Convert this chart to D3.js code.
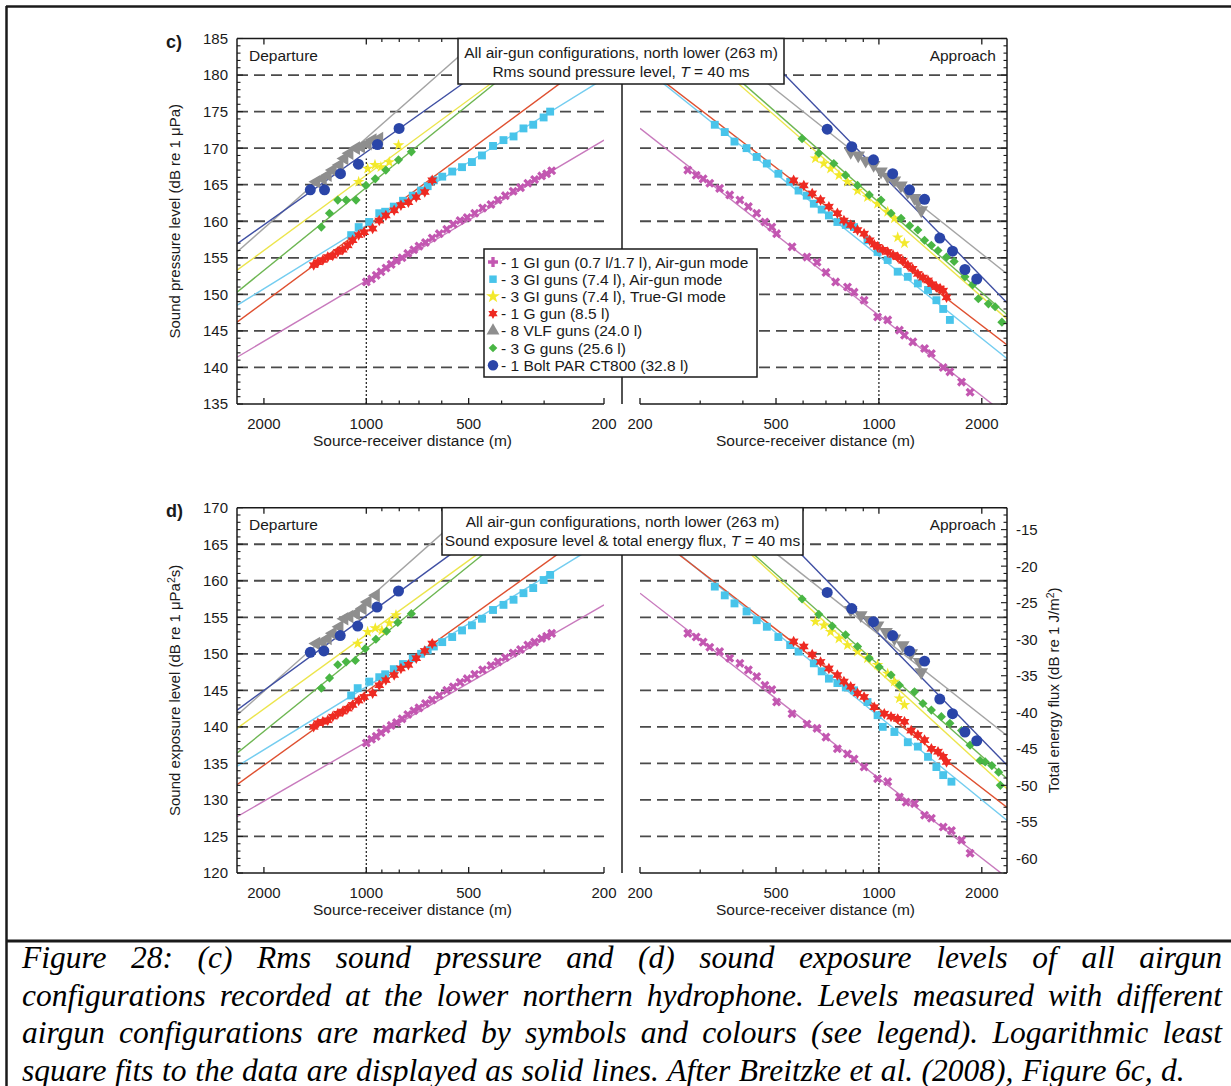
<!DOCTYPE html>
<html>
<head>
<meta charset="utf-8">
<script src="https://cdn.jsdelivr.net/npm/d3@7"></script>
<style>
  body { margin: 0; background: #fff; }
  svg text { font-family: "Liberation Sans", Arial, sans-serif; fill: #1a1a1a; }
  svg text.cap { font-family: "Liberation Serif", "Times New Roman", serif; font-style: italic; font-size: 31.5px; fill: #000; }
</style>
</head>
<body>
<div id="app"></div>
<script>
// ---- series info ----
const seriesKeys = ['gi1', 'gi3a', 'gi3t', 'g1', 'vlf', 'g3', 'bolt'];
const legendLabels = [
  '- 1 GI gun (0.7 l/1.7 l), Air-gun mode',
  '- 3 GI guns (7.4 l), Air-gun mode',
  '- 3 GI guns (7.4 l), True-GI mode',
  '- 1 G gun (8.5 l)',
  '- 8 VLF guns (24.0 l)',
  '- 3 G guns (25.6 l)',
  '- 1 Bolt PAR CT800 (32.8 l)'
];
const markColors = ['#c357b1', '#48c4ea', '#f3e92c', '#ee2a22', '#8e8e8e', '#49b644', '#2a45a8'];
const lineColors = ['#c87abd', '#74cdf0', '#ece54c', '#df5030', '#a4a4a4', '#6db652', '#3f4fa3'];

// ---- axis ticks ----
const xMajor = [2000, 1000, 500, 200];
const xMinor = [900, 800, 700, 600, 400, 300];
const yTicksC = [135, 140, 145, 150, 155, 160, 165, 170, 175, 180, 185];
const yTicksD = [120, 125, 130, 135, 140, 145, 150, 155, 160, 165, 170];
const fluxTicks = [-15, -20, -25, -30, -35, -40, -45, -50, -55, -60];
const fluxOffset = 182; // SEL - 182 = energy flux

// ---- panel c, departure: [distance m, level dB] ----
const c_dep_gi1 = [[1000,151.7],[965,152.1],[935,152.6],[905,153.1],[875,153.6],[845,154.1],[815,154.6],[785,155.0],[755,155.6],[725,156.1],[700,156.6],[670,157.1],[640,157.7],[610,158.3],[580,158.9],[555,159.6],[530,160.1],[505,160.5],[480,161.1],[455,161.8],[430,162.3],[410,162.9],[390,163.5],[370,164.1],[352,164.6],[335,165.2],[320,165.7],[305,166.2],[295,166.5],[285,166.9]];
const c_dep_gi3a = [[1108,158.1],[1053,159.2],[980,159.9],[916,161.1],[880,161.3],[830,162.0],[780,162.8],[730,163.5],[690,164.2],[660,164.8],[633,165.6],[598,166.1],[559,166.8],[523,167.4],[489,168.1],[457,169.0],[424,170.3],[395,171.1],[369,171.6],[345,172.7],[323,173.2],[301,174.2],[288,175.0]];
const c_dep_gi3t = [[1053,165.4],[991,167.2],[943,167.7],[906,167.4],[856,168.1],[804,170.4]];
const c_dep_g1 = [[1428,154.0],[1388,154.4],[1342,154.7],[1298,155.1],[1255,155.3],[1213,155.8],[1173,156.1],[1134,156.7],[1097,157.4],[1053,158.1],[1014,158.5],[958,159.0],[916,160.1],[876,160.8],[828,161.5],[791,162.2],[752,162.6],[713,163.3],[673,164.0],[640,165.6]];
const c_dep_vlf = [[1403,165.4],[1342,165.8],[1298,166.3],[1255,167.0],[1199,167.7],[1160,168.6],[1121,169.3],[1072,170.0],[1036,170.2],[991,170.6],[958,171.1],[916,171.3]];
const c_dep_g3 = [[1356,159.2],[1283,161.1],[1213,162.9],[1146,162.9],[1072,162.9],[1002,164.9],[941,165.8],[876,167.0],[804,168.4],[737,169.5]];
const c_dep_bolt = [[1461,164.3],[1327,164.3],[1191,166.5],[1055,167.8],[927,170.5],[801,172.7]];

// ---- panel c, approach ----
const c_app_gi1 = [[276,167.0],[292,166.3],[306,165.8],[320,165.2],[342,164.5],[366,163.6],[392,162.9],[415,162.0],[439,161.1],[464,159.9],[486,159.2],[502,158.3],[557,156.5],[616,155.1],[659,154.4],[700,153.0],[747,151.7],[809,151.0],[846,150.3],[905,149.2],[991,146.9],[1061,146.5],[1148,145.1],[1188,144.4],[1257,143.5],[1360,142.6],[1424,141.9],[1542,140.0],[1613,139.4],[1745,138.0],[1848,136.6]];
const c_app_gi3a = [[331,173.2],[354,172.2],[378,170.9],[410,170.0],[439,168.8],[470,167.9],[508,166.5],[550,165.4],[582,164.2],[615,163.5],[645,162.4],[680,161.6],[714,160.8],[756,159.9],[800,159.5],[846,159.2],[926,157.4],[991,155.8],[1061,154.7],[1135,153.1],[1215,152.4],[1300,151.5],[1392,150.6],[1473,149.2],[1542,148.0],[1613,146.5]];
const c_app_gi3t = [[652,168.6],[690,167.9],[722,167.2],[764,166.3],[809,165.4],[866,164.2],[926,163.3],[991,162.4],[1061,161.3],[1110,160.4],[1135,157.8],[1188,157.0]];
const c_app_g1 = [[563,165.6],[603,164.9],[638,163.8],[675,162.9],[714,162.0],[756,161.1],[790,160.1],[827,159.5],[866,158.8],[905,158.3],[940,157.4],[969,156.8],[991,156.5],[1026,156.1],[1061,155.8],[1100,155.4],[1135,155.1],[1175,154.6],[1215,154.0],[1255,153.5],[1300,152.8],[1345,152.3],[1392,151.9],[1430,151.4],[1473,151.0],[1510,150.8],[1542,150.5],[1577,149.6]];
const c_app_vlf = [[827,169.5],[870,169.0],[915,168.3],[965,167.7],[1014,166.8],[1060,166.1],[1110,165.6],[1160,164.9],[1215,164.0],[1270,163.2],[1300,162.7],[1330,161.5]];
const c_app_g3 = [[596,171.3],[667,169.3],[738,167.9],[799,166.3],[866,164.9],[937,163.6],[1014,162.9],[1085,161.1],[1161,160.4],[1230,159.4],[1300,158.8],[1360,157.4],[1424,156.7],[1489,156.0],[1577,155.1],[1660,154.5],[1785,152.4],[1880,151.3],[1954,149.4],[2091,148.7],[2188,148.3],[2290,146.2]];
const c_app_bolt = [[706,172.6],[833,170.2],[964,168.4],[1097,166.5],[1229,164.3],[1360,163.0],[1507,157.7],[1642,155.9],[1785,153.4],[1933,152.1]];

// ---- panel d, departure ----
const d_dep_gi1 = [[1000,137.8],[965,138.3],[935,138.7],[905,139.2],[875,139.7],[845,140.2],[815,140.6],[785,141.1],[755,141.7],[725,142.2],[700,142.6],[670,143.2],[640,143.7],[610,144.3],[580,145.0],[555,145.5],[530,146.1],[505,146.6],[480,147.2],[455,147.8],[430,148.4],[410,148.9],[390,149.5],[370,150.1],[352,150.6],[335,151.2],[320,151.6],[305,152.1],[295,152.4],[285,152.8]];
const d_dep_gi3a = [[1108,144.3],[1060,145.3],[980,146.2],[916,146.8],[880,147.2],[830,147.9],[780,148.6],[730,149.4],[690,150.0],[660,150.5],[633,151.0],[598,151.6],[559,152.3],[523,153.2],[489,153.9],[457,154.8],[424,156.0],[395,156.7],[369,157.4],[345,158.3],[323,159.0],[301,160.1],[288,160.8]];
const d_dep_gi3t = [[1060,151.4],[991,153.0],[941,153.5],[900,153.2],[856,154.2],[818,155.3]];
const d_dep_g1 = [[1428,140.0],[1388,140.5],[1342,140.7],[1298,140.9],[1255,141.4],[1213,141.8],[1173,142.1],[1134,142.5],[1097,143.0],[1053,143.6],[1014,144.1],[958,144.6],[916,145.7],[876,146.4],[828,147.1],[791,148.0],[752,148.5],[713,149.4],[673,150.4],[640,151.4]];
const d_dep_vlf = [[1403,151.4],[1342,151.6],[1298,152.1],[1255,152.8],[1199,153.7],[1160,154.8],[1121,155.1],[1072,155.5],[1025,156.2],[991,157.1],[937,158.0]];
const d_dep_g3 = [[1356,145.3],[1283,146.7],[1213,148.5],[1146,148.9],[1077,149.1],[1007,150.7],[937,152.0],[872,153.1],[808,154.3],[737,155.5]];
const d_dep_bolt = [[1461,150.2],[1333,150.4],[1193,152.5],[1060,153.8],[930,156.4],[804,158.6]];

// ---- panel d, approach ----
const d_app_gi1 = [[276,152.8],[292,152.3],[306,151.6],[320,150.9],[342,150.3],[366,149.4],[392,148.7],[415,147.8],[439,146.9],[464,145.7],[486,145.1],[502,143.4],[557,141.8],[616,140.4],[659,139.8],[700,138.6],[756,137.0],[809,136.3],[846,135.6],[905,134.5],[991,132.9],[1061,132.5],[1148,130.4],[1201,129.7],[1271,129.5],[1360,127.9],[1424,127.5],[1542,126.3],[1630,125.8],[1745,124.5],[1848,122.7]];
const d_app_gi3a = [[331,159.2],[354,158.0],[378,156.9],[410,155.8],[439,154.6],[470,153.7],[508,152.3],[550,151.2],[582,150.3],[645,148.7],[680,147.6],[714,146.6],[756,146.0],[800,145.4],[846,145.0],[926,143.4],[991,141.6],[1026,140.0],[1110,139.3],[1215,137.9],[1300,137.3],[1392,135.9],[1473,134.5],[1542,133.4],[1630,132.5]];
const d_app_gi3t = [[652,154.4],[690,153.9],[722,153.0],[764,152.1],[809,151.2],[866,150.3],[926,149.4],[991,148.5],[1061,147.3],[1110,146.2],[1148,143.9],[1188,143.0]];
const d_app_g1 = [[563,151.7],[603,151.0],[638,149.9],[675,148.9],[714,148.0],[756,147.1],[790,146.2],[827,145.5],[866,144.6],[905,144.1],[969,142.7],[1037,141.8],[1085,141.4],[1135,141.1],[1188,140.7],[1243,139.5],[1300,138.9],[1360,138.2],[1424,137.0],[1489,136.6],[1542,135.9],[1577,135.2]];
const d_app_vlf = [[827,156.0],[885,155.3],[937,154.6],[991,153.9],[1049,153.0],[1110,152.1],[1175,151.2],[1243,150.1],[1315,148.9],[1330,147.5]];
const d_app_g3 = [[596,157.5],[667,155.4],[730,153.8],[799,152.6],[866,151.0],[937,149.4],[1002,148.2],[1085,147.1],[1148,145.7],[1271,144.8],[1345,143.2],[1424,142.3],[1523,141.4],[1613,140.5],[1745,139.5],[1848,137.5],[1977,135.4],[2047,135.2],[2140,134.7],[2240,133.8],[2266,132.0]];
const d_app_bolt = [[706,158.4],[833,156.2],[964,154.4],[1097,152.5],[1229,150.4],[1360,149.0],[1507,143.8],[1642,141.8],[1785,139.3],[1933,138.1]];

// ---- least-square fit lines: [d1, L1, d2, L2], order = seriesKeys ----
const fit_c_dep = [[2400,141.4,200,171.1],[2400,148.5,200,179.5],[2400,153.3,350,181.9],[2400,146.2,200,183.3],[2400,155.8,450,185.6],[2400,150.3,350,181.8],[2400,156.9,400,182.6]];
const fit_c_app = [[200,172.7,2400,133.2],[200,181.4,2400,141.0],[300,183.4,2400,146.4],[200,181.6,2400,142.9],[350,183.7,2400,152.6],[300,184.0,2400,147.0],[430,184.4,2400,148.6]];
const fit_d_dep = [[2400,127.7,200,156.7],[2400,134.6,200,165.5],[2400,139.8,380,166.8],[2400,132.1,200,168.2],[2400,141.6,500,169.7],[2400,136.4,380,166.5],[2400,142.3,420,168.0]];
const fit_d_app = [[200,158.3,2290,119.9],[200,168.0,2400,127.0],[330,168.2,2400,131.3],[200,167.7,2400,128.8],[400,167.3,2400,138.6],[330,168.4,2400,132.7],[480,168.0,2400,134.5]];

// dotted reference line at 1000 m: top level
const dot1000 = {c_dep: 168.6, c_app: 166.5, d_dep: 152.8, d_app: 152.5};

const captionLines = [
  'Figure 28: (c) Rms sound pressure and (d) sound exposure levels of all airgun',
  'configurations recorded at the lower northern hydrophone. Levels measured with different',
  'airgun configurations are marked by symbols and colours (see legend). Logarithmic least',
  'square fits to the data are displayed as solid lines. After Breitzke et al. (2008), Figure 6c, d.'
];

// ---------------------------------------------------------------
const W = 1231, H = 1086;
const svg = d3.select('#app').append('svg').attr('width', W).attr('height', H);

const xDep = d3.scaleLog().domain([2400, 200]).range([237, 604]);
const xApp = d3.scaleLog().domain([200, 2370]).range([640, 1007]);
const plotL = 237, plotR = 1007, divX = 622;

const panels = [
  {key: 'c', top: 38.5, bottom: 404, dom: [135, 185], yTicks: yTicksC,
   pts: {dep: [c_dep_gi1, c_dep_gi3a, c_dep_gi3t, c_dep_g1, c_dep_vlf, c_dep_g3, c_dep_bolt],
         app: [c_app_gi1, c_app_gi3a, c_app_gi3t, c_app_g1, c_app_vlf, c_app_g3, c_app_bolt]},
   fits: {dep: fit_c_dep, app: fit_c_app}},
  {key: 'd', top: 507.7, bottom: 873, dom: [120, 170], yTicks: yTicksD,
   pts: {dep: [d_dep_gi1, d_dep_gi3a, d_dep_gi3t, d_dep_g1, d_dep_vlf, d_dep_g3, d_dep_bolt],
         app: [d_app_gi1, d_app_gi3a, d_app_gi3t, d_app_g1, d_app_vlf, d_app_g3, d_app_bolt]},
   fits: {dep: fit_d_dep, app: fit_d_app}}
];

// six-pointed star for the G gun
const star6 = {
  draw(ctx, size) {
    const R = Math.sqrt(size) * 0.62, r = R * 0.55;
    for (let i = 0; i < 12; i++) {
      const a = i * Math.PI / 6 - Math.PI / 2, rr = i % 2 ? r : R;
      if (i === 0) ctx.moveTo(rr * Math.cos(a), rr * Math.sin(a));
      else ctx.lineTo(rr * Math.cos(a), rr * Math.sin(a));
    }
    ctx.closePath();
  }
};
const symTypes = [d3.symbolCross, d3.symbolSquare, d3.symbolStar, star6, d3.symbolTriangle, d3.symbolSquare, d3.symbolCircle];
const symSizes = [52, 62, 42, 85, 80, 42, 95];
function symRotate(i, side) {
  if (i === 0) return 45;          // x-shaped crosses
  if (i === 5) return 45;          // diamonds
  if (i === 4) return side === 'dep' ? -90 : 180;
  return 0;
}

const ink = '#1a1a1a';
function hline(g, x1, x2, y, w) {
  g.append('line').attr('x1', x1).attr('x2', x2).attr('y1', y).attr('y2', y)
    .attr('stroke', ink).attr('stroke-width', w || 1.5);
}
function vline(g, x, y1, y2, w) {
  g.append('line').attr('x1', x).attr('x2', x).attr('y1', y1).attr('y2', y2)
    .attr('stroke', ink).attr('stroke-width', w || 1.5);
}

panels.forEach(p => {
  const y = d3.scaleLinear().domain(p.dom).range([p.bottom, p.top]);
  const g = svg.append('g').attr('class', 'panel-' + p.key);
  const gridVals = p.yTicks.slice(1, -1);

  ['dep', 'app'].forEach(side => {
    const x = side === 'dep' ? xDep : xApp;
    const [xa, xb] = x.range();
    const hg = g.append('g');
    const clipId = 'clip-' + p.key + '-' + side;
    hg.append('clipPath').attr('id', clipId).append('rect')
      .attr('x', xa).attr('y', p.top).attr('width', xb - xa).attr('height', p.bottom - p.top);

    // dashed grid
    hg.selectAll('.grid').data(gridVals).enter().append('line')
      .attr('x1', xa).attr('x2', xb).attr('y1', d => y(d)).attr('y2', d => y(d))
      .attr('stroke', '#4a4a4a').attr('stroke-width', 1.8).attr('stroke-dasharray', '11,6');

    // fit lines
    const line = d3.line().x(d => x(d[0])).y(d => y(d[1]));
    hg.append('g').attr('clip-path', 'url(#' + clipId + ')')
      .selectAll('path').data(p.fits[side]).enter().append('path')
      .attr('d', f => line([[f[0], f[1]], [f[2], f[3]]]))
      .attr('fill', 'none').attr('stroke', (f, i) => lineColors[i]).attr('stroke-width', 1.4);

    // dotted line at 1000 m
    hg.append('line').attr('x1', x(1000)).attr('x2', x(1000))
      .attr('y1', p.bottom).attr('y2', y(dot1000[p.key + '_' + side]))
      .attr('stroke', ink).attr('stroke-width', 1.2).attr('stroke-dasharray', '2,2');

    // points
    p.pts[side].forEach((pts, i) => {
      const sym = d3.symbol().type(symTypes[i]).size(symSizes[i]);
      hg.append('g').selectAll('path').data(pts).enter().append('path')
        .attr('d', sym)
        .attr('transform', d => `translate(${x(d[0])},${y(d[1])}) rotate(${symRotate(i, side)})`)
        .attr('fill', markColors[i]);
    });

    // bottom & top axes with inward ticks
    hline(hg, xa, xb, p.bottom);
    xMajor.forEach(v => {
      vline(hg, x(v), p.bottom, p.bottom - 6, 1.3);
      vline(hg, x(v), p.top, p.top + 6, 1.3);
      hg.append('text').attr('x', x(v)).attr('y', p.bottom + 24.5)
        .attr('text-anchor', 'middle').attr('font-size', 15).text(v);
    });
    xMinor.forEach(v => {
      vline(hg, x(v), p.bottom, p.bottom - 3.5, 1.2);
      vline(hg, x(v), p.top, p.top + 3.5, 1.2);
    });
    hg.append('text').attr('x', (xa + xb) / 2 - 8).attr('y', p.bottom + 41.5)
      .attr('text-anchor', 'middle').attr('font-size', 15.5).text('Source-receiver distance (m)');
  });

  // frame
  hline(g, plotL, plotR, p.top);
  vline(g, plotL, p.top, p.bottom);
  vline(g, plotR, p.top, p.bottom);
  vline(g, divX, p.top, p.bottom);

  // left axis ticks and labels
  d3.range(p.dom[0], p.dom[1] + 1, 1).forEach(v => {
    const major = v % 5 === 0;
    hline(g, plotL, plotL + (major ? 6 : 3.5), y(v), 1.1);
    if (p.key === 'c') hline(g, plotR, plotR - (major ? 6 : 3.5), y(v), 1.1);
  });
  g.selectAll('.ylab').data(p.yTicks).enter().append('text')
    .attr('x', 228).attr('y', d => y(d)).attr('dy', '0.36em')
    .attr('text-anchor', 'end').attr('font-size', 15).text(d => d);

  // right energy-flux axis for panel d
  if (p.key === 'd') {
    const yf = d3.scaleLinear().domain([p.dom[0] - fluxOffset, p.dom[1] - fluxOffset]).range([p.bottom, p.top]);
    d3.range(p.dom[0] - fluxOffset, p.dom[1] - fluxOffset + 1, 1).forEach(v => {
      const major = v % 5 === 0;
      hline(g, plotR, plotR - (major ? 6 : 3.5), yf(v), 1.1);
    });
    g.selectAll('.flab').data(fluxTicks).enter().append('text')
      .attr('x', 1016).attr('y', d => yf(d)).attr('dy', '0.36em')
      .attr('font-size', 15).text(d => d);
    g.append('text').attr('transform', `translate(1059,${(p.top + p.bottom) / 2}) rotate(-90)`)
      .attr('text-anchor', 'middle').attr('font-size', 15)
      .html('Total energy flux (dB re 1 J/m<tspan dy="-5" font-size="10.5">2</tspan><tspan dy="5">)</tspan>');
  }

  // panel letter and y label
  g.append('text').attr('x', 166).attr('y', p.top + 9.5).attr('font-size', 18)
    .attr('font-weight', 'bold').text(p.key + ')');
  const yl = g.append('text').attr('transform', `translate(180,${(p.top + p.bottom) / 2}) rotate(-90)`)
    .attr('text-anchor', 'middle').attr('font-size', 15);
  if (p.key === 'c') yl.text('Sound pressure level (dB re 1 \u03bcPa)');
  else yl.html('Sound exposure level (dB re 1 \u03bcPa<tspan dy="-5" font-size="10.5">2</tspan><tspan dy="5">s)</tspan>');

  // Departure / Approach
  g.append('text').attr('x', 249).attr('y', p.top + 22).attr('font-size', 15.5).text('Departure');
  g.append('text').attr('x', 996).attr('y', p.top + 22).attr('text-anchor', 'end').attr('font-size', 15.5).text('Approach');

  // title box
  const box = p.key === 'c' ? {x: 458, w: 326, h: 45.5} : {x: 442, w: 361, h: 47.3};
  g.append('rect').attr('x', box.x).attr('y', p.top).attr('width', box.w).attr('height', box.h)
    .attr('fill', '#fff').attr('stroke', ink).attr('stroke-width', 1.5);
  const cx = box.x + box.w / 2;
  g.append('text').attr('x', cx).attr('y', p.top + 19).attr('text-anchor', 'middle').attr('font-size', 15.5)
    .text('All air-gun configurations, north lower (263 m)');
  const t2 = g.append('text').attr('x', cx).attr('y', p.top + 38).attr('text-anchor', 'middle').attr('font-size', 15.5);
  if (p.key === 'c') {
    t2.append('tspan').text('Rms sound pressure level, ');
    t2.append('tspan').attr('font-style', 'italic').text('T');
    t2.append('tspan').text(' =  40 ms');
  } else {
    t2.append('tspan').text('Sound exposure level & total energy flux, ');
    t2.append('tspan').attr('font-style', 'italic').text('T');
    t2.append('tspan').text(' = 40 ms');
  }

  // legend (panel c only)
  if (p.key === 'c') {
    const lg = g.append('g');
    lg.append('rect').attr('x', 484).attr('y', 249).attr('width', 273).attr('height', 128)
      .attr('fill', '#fff').attr('stroke', ink).attr('stroke-width', 1.5);
    legendLabels.forEach((lab, i) => {
      const ly = 262 + i * 17.2;
      const rot = i === 5 ? 45 : 0;
      lg.append('path').attr('d', d3.symbol().type(symTypes[i]).size(i === 0 ? 55 : i === 2 ? 60 : symSizes[i] * 0.9))
        .attr('transform', `translate(493,${ly}) rotate(${rot})`).attr('fill', markColors[i]);
      lg.append('text').attr('x', 501).attr('y', ly).attr('dy', '0.36em').attr('font-size', 15.5).text(lab);
    });
  }
});

// outer frame & caption
hline(svg, 6, W, 6.5, 2.5);
vline(svg, 6.5, 6, H, 2.5);
hline(svg, 6, W, 941, 3);

const capLeft = 22, capRight = 1222, capY = [968, 1005.5, 1043, 1080.5];
captionLines.forEach((line, i) => {
  const words = line.split(' ');
  const cg = svg.append('g');
  const ts = words.map(w => cg.append('text').attr('class', 'cap').attr('y', capY[i]).text(w));
  const ws = ts.map(t => t.node().getComputedTextLength());
  const sum = d3.sum(ws);
  let gap = (capRight - capLeft - sum) / (words.length - 1);
  if (i === captionLines.length - 1) gap = Math.min(gap, 8.5);
  let xx = capLeft;
  ts.forEach((t, j) => { t.attr('x', xx); xx += ws[j] + gap; });
});
</script>
</body>
</html>
